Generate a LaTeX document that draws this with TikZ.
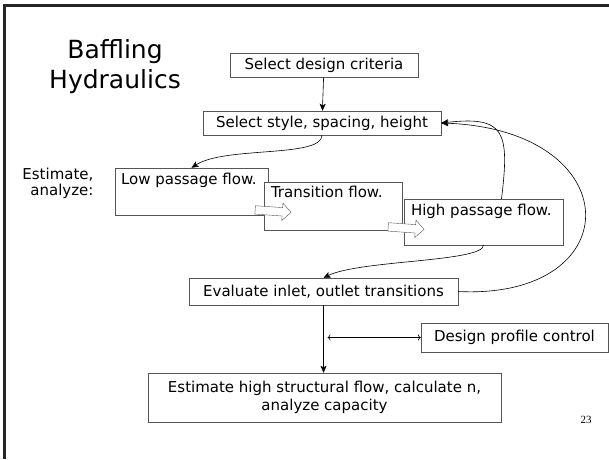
\documentclass[tikz,border=0pt]{standalone}
\usepackage{fontspec}
\setmainfont{DejaVu Sans}
\newfontfamily\pgnum{Liberation Serif}
\usetikzlibrary{arrows.meta,shapes.arrows,calc}
\definecolor{edge}{HTML}{555555}

\begin{document}
\begin{tikzpicture}[x=1pt,y=-1pt,font=\fontsize{15}{18}\selectfont,
  box/.style={draw=edge,fill=white,inner sep=0pt,minimum height=24pt},
  stage/.style={box,minimum height=47pt},
  lbl/.style={anchor=north west,inner sep=0pt},
  blk/.style={single arrow,draw=edge,fill=white,inner xsep=0pt,inner ysep=4pt,minimum height=36pt,single arrow head extend=4.5pt},
  arr/.style={-{Stealth[length=7pt,width=6pt,inset=1.5pt]},semithick}]
\useasboundingbox (0,0) rectangle (609,459);
\draw[line width=3pt,black!85] (4,459)--(4,5)--(609,5);
\node[font=\fontsize{25}{30}\selectfont,align=center] (title) at (115,67) {Baffling\\Hydraulics};
\node[box,minimum width=188pt] (crit) at (324,65.5) {Select design criteria};
\node[box,minimum width=238pt] (style) at (322,123) {Select style, spacing, height};
\node[align=right,anchor=east,font=\fontsize{15}{16}\selectfont] (side) at (97,183) {Estimate,\\analyze:};
% three flow regimes
\node[stage,minimum width=153pt] (low) at (191.5,191.5) {};
\node[lbl] (lowt) at ([shift={(6pt,-5pt)}]low.north west) {Low passage flow.};
\node[stage,minimum width=138pt,minimum height=48pt] (trans) at (333,206) {};
\node[lbl] (transt) at ([shift={(7pt,-4pt)}]trans.north west) {Transition flow.};
\node[stage,minimum width=159pt,minimum height=46pt] (high) at (483.5,222) {};
\node[lbl] (hight) at ([shift={(7pt,-5pt)}]high.north west) {High passage flow.};
\node[blk,rotate=-4] (flowA) at (271,211) {};
\node[blk,rotate=-4] (flowB) at (404,228) {};
\node[box,minimum width=269pt,minimum height=27pt] (eval) at (323.5,291.5) {Evaluate inlet, outlet transitions};
\node[box,minimum width=187pt,minimum height=29pt] (prof) at (514.5,337.5) {Design profile control};
\node[box,minimum width=353pt,minimum height=49pt,align=center] (cap) at (324.5,397.5) {Estimate high structural flow, calculate n,\\analyze capacity};
\node[font=\pgnum\fontsize{11}{12}\selectfont] (pg) at (586,420) {23};
\coordinate (tap) at ([xshift=4pt]eval.south |- prof.west);
\draw[arr](crit)--(style);
\draw[arr](style.south) .. controls (322,158) and (225,146) .. (low.north);
\draw[arr](high.south) .. controls (483,262) and (360,260) .. (eval.north);
\draw[arr]([xshift=18pt]high.north) .. controls (510,130) and (504,116) .. (style.east);
\draw[arr](eval.east) .. controls (630,300) and (630,130) .. (style.east);
\draw[arr](eval.south)--(eval.south |- cap.north);
\draw[arr,<->](tap)--(prof.west);
\end{tikzpicture}
\end{document}
